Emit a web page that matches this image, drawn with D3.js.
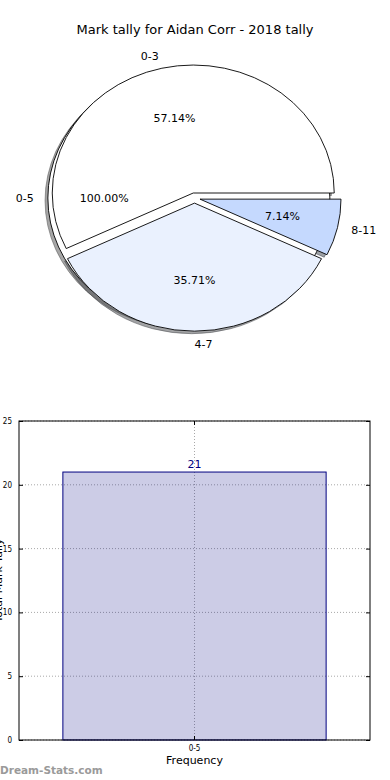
<!DOCTYPE html>
<html>
<head>
<meta charset="utf-8">
<script src="https://cdn.jsdelivr.net/npm/d3@7"></script>
<style>
  body { margin: 0; background: #fff; }
  svg { display: block; font-family: "DejaVu Sans", sans-serif; }
</style>
</head>
<body>
<svg id="chart" width="390" height="780"></svg>
<script>
// ---- data ----
var titleText = "Mark tally for Aidan Corr - 2018 tally";

// outer pie (single slice)
var outerLabels = ["0-5"];
var outerValues = [21];

// inner pie
var innerLabels = ["0-3", "4-7", "8-11"];
var innerValues = [8, 5, 1];

// bar chart
var barCategories = ["0-5"];
var barValues = [21];
var yTicks = [0, 5, 10, 15, 20, 25];

// ---- pie layout ----
var svg = d3.select("#chart");

var cx = 194.5, cy = 198, rx = 141, ry = 128;
var outerExplode = 0.04, innerExplode = 0.04;
var outerColors = ["#ffffff"];
var innerColors = ["#ffffff", "#eaf1fe", "#c5d9fe"];

svg.append("text")
  .attr("x", 195).attr("y", 34)
  .attr("text-anchor", "middle")
  .attr("font-size", 13)
  .text(titleText);

var pie = d3.pie().sort(null);
var unitArc = d3.arc().innerRadius(0).outerRadius(1);

function slices(values, labels, colors, explode) {
  return pie(values).map(function(d, i) {
    // matplotlib style: theta counter-clockwise from east
    var t0 = d.startAngle, t1 = d.endAngle, tm = (t0 + t1) / 2;
    return {
      label: labels[i],
      pct: (values[i] / d3.sum(values) * 100).toFixed(2) + "%",
      color: colors[i],
      tm: tm,
      ox: cx + explode * rx * Math.cos(tm),
      oy: cy - explode * ry * Math.sin(tm),
      path: unitArc({startAngle: Math.PI / 2 - t1, endAngle: Math.PI / 2 - t0})
    };
  });
}

var outer = slices(outerValues, outerLabels, outerColors, outerExplode);
var inner = slices(innerValues, innerLabels, innerColors, innerExplode);
var all = outer.concat(inner);

function shadowColor(c) {
  var col = d3.rgb(c);
  return "rgba(" + Math.round(col.r * 0.3) + "," + Math.round(col.g * 0.3) + "," + Math.round(col.b * 0.3) + ",0.5)";
}

// shadows first (below all wedges)
svg.append("g").selectAll("path")
  .data(all)
  .enter().append("path")
  .attr("d", function(d) { return d.path; })
  .attr("transform", function(d) {
    return "translate(" + (d.ox - 0.02 * rx) + "," + (d.oy + 0.02 * ry) + ") scale(" + rx + "," + ry + ")";
  })
  .attr("fill", function(d) { return shadowColor(d.color); })
  .attr("stroke", function(d) { return shadowColor(d.color); })
  .attr("stroke-width", 1)
  .attr("vector-effect", "non-scaling-stroke");

svg.append("g").selectAll("path")
  .data(all)
  .enter().append("path")
  .attr("d", function(d) { return d.path; })
  .attr("transform", function(d) {
    return "translate(" + d.ox + "," + d.oy + ") scale(" + rx + "," + ry + ")";
  })
  .attr("fill", function(d) { return d.color; })
  .attr("stroke", "#000")
  .attr("stroke-width", 0.9)
  .attr("stroke-linejoin", "miter")
  .attr("vector-effect", "non-scaling-stroke");

var lblG = svg.append("g").attr("font-size", 11);
all.forEach(function(d) {
  var c = Math.cos(d.tm), s = Math.sin(d.tm);
  lblG.append("text")
    .attr("x", d.ox + 1.1 * rx * c)
    .attr("y", d.oy - 1.1 * ry * s)
    .attr("dy", "0.35em")
    .attr("text-anchor", c > 0 || Math.abs(c) < 1e-9 ? "start" : "end")
    .text(d.label);
  lblG.append("text")
    .attr("x", d.ox + 0.6 * rx * c)
    .attr("y", d.oy - 0.6 * ry * s)
    .attr("dy", "0.35em")
    .attr("text-anchor", "middle")
    .text(d.pct);
});

// ---- bar chart ----
var bx0 = 19, bx1 = 370, by0 = 421, by1 = 740;

var x = d3.scaleBand().domain(barCategories).range([bx0, bx1])
  .paddingInner(0.25).paddingOuter(0.125);
var y = d3.scaleLinear().domain([0, 25]).range([by1, by0]);

var bar = svg.append("g");

// grid
bar.append("g").selectAll("line")
  .data(yTicks)
  .enter().append("line")
  .attr("x1", bx0).attr("x2", bx1)
  .attr("y1", function(d) { return y(d); })
  .attr("y2", function(d) { return y(d); })
  .attr("stroke", "#a8a8a8").attr("stroke-width", 1)
  .attr("stroke-dasharray", "1,2");
bar.append("g").selectAll("line")
  .data(barCategories)
  .enter().append("line")
  .attr("x1", function(d) { return x(d) + x.bandwidth() / 2; })
  .attr("x2", function(d) { return x(d) + x.bandwidth() / 2; })
  .attr("y1", by0).attr("y2", by1)
  .attr("stroke", "#a8a8a8").attr("stroke-width", 1)
  .attr("stroke-dasharray", "1,2");

// bars
bar.append("g").selectAll("rect")
  .data(barValues)
  .enter().append("rect")
  .attr("x", function(d, i) { return x(barCategories[i]); })
  .attr("y", function(d) { return y(d); })
  .attr("width", x.bandwidth())
  .attr("height", function(d) { return y(0) - y(d); })
  .attr("fill", "rgba(0,0,128,0.2)")
  .attr("stroke", "#000080")
  .attr("stroke-width", 1);

bar.append("g").selectAll("text")
  .data(barValues)
  .enter().append("text")
  .attr("x", function(d, i) { return x(barCategories[i]) + x.bandwidth() / 2; })
  .attr("y", function(d) { return y(d) - 4; })
  .attr("text-anchor", "middle")
  .attr("font-size", 11)
  .attr("fill", "#000080")
  .text(function(d) { return d; });

// axes (classic inward ticks)
var yAxisL = d3.axisLeft(y).tickValues(yTicks).tickSize(-4).tickPadding(7);
var yAxisR = d3.axisRight(y).tickValues(yTicks).tickSize(-4).tickFormat("");
var xAxisB = d3.axisBottom(x).tickSize(-4).tickPadding(5);
var xAxisT = d3.axisTop(x).tickSize(-4).tickFormat("");

[
  bar.append("g").attr("transform", "translate(" + bx0 + ",0)").call(yAxisL),
  bar.append("g").attr("transform", "translate(" + bx1 + ",0)").call(yAxisR),
  bar.append("g").attr("transform", "translate(0," + by1 + ")").call(xAxisB),
  bar.append("g").attr("transform", "translate(0," + by0 + ")").call(xAxisT)
].forEach(function(g) {
  g.select(".domain").remove();
  g.selectAll("text").attr("font-size", 8).attr("fill", "#000")
    .attr("font-family", "DejaVu Sans Condensed, DejaVu Sans, sans-serif");
  g.selectAll("line").attr("stroke", "#000");
});

bar.append("rect")
  .attr("x", bx0).attr("y", by0)
  .attr("width", bx1 - bx0).attr("height", by1 - by0)
  .attr("fill", "none").attr("stroke", "#000").attr("stroke-width", 1);

bar.append("text")
  .attr("x", (bx0 + bx1) / 2).attr("y", 764)
  .attr("text-anchor", "middle")
  .attr("font-size", 11)
  .text("Frequency");

// y label sits mostly off the left edge, as in the reference
bar.append("text")
  .attr("transform", "translate(1.5," + ((by0 + by1) / 2) + ") rotate(-90)")
  .attr("text-anchor", "middle")
  .attr("font-size", 11)
  .text("Total Mark Tally");

svg.append("text")
  .attr("x", 0).attr("y", 774)
  .attr("font-size", 10.5)
  .attr("font-weight", "bold")
  .attr("fill", "#9a9a9a")
  .text("Dream-Stats.com");
</script>
</body>
</html>
